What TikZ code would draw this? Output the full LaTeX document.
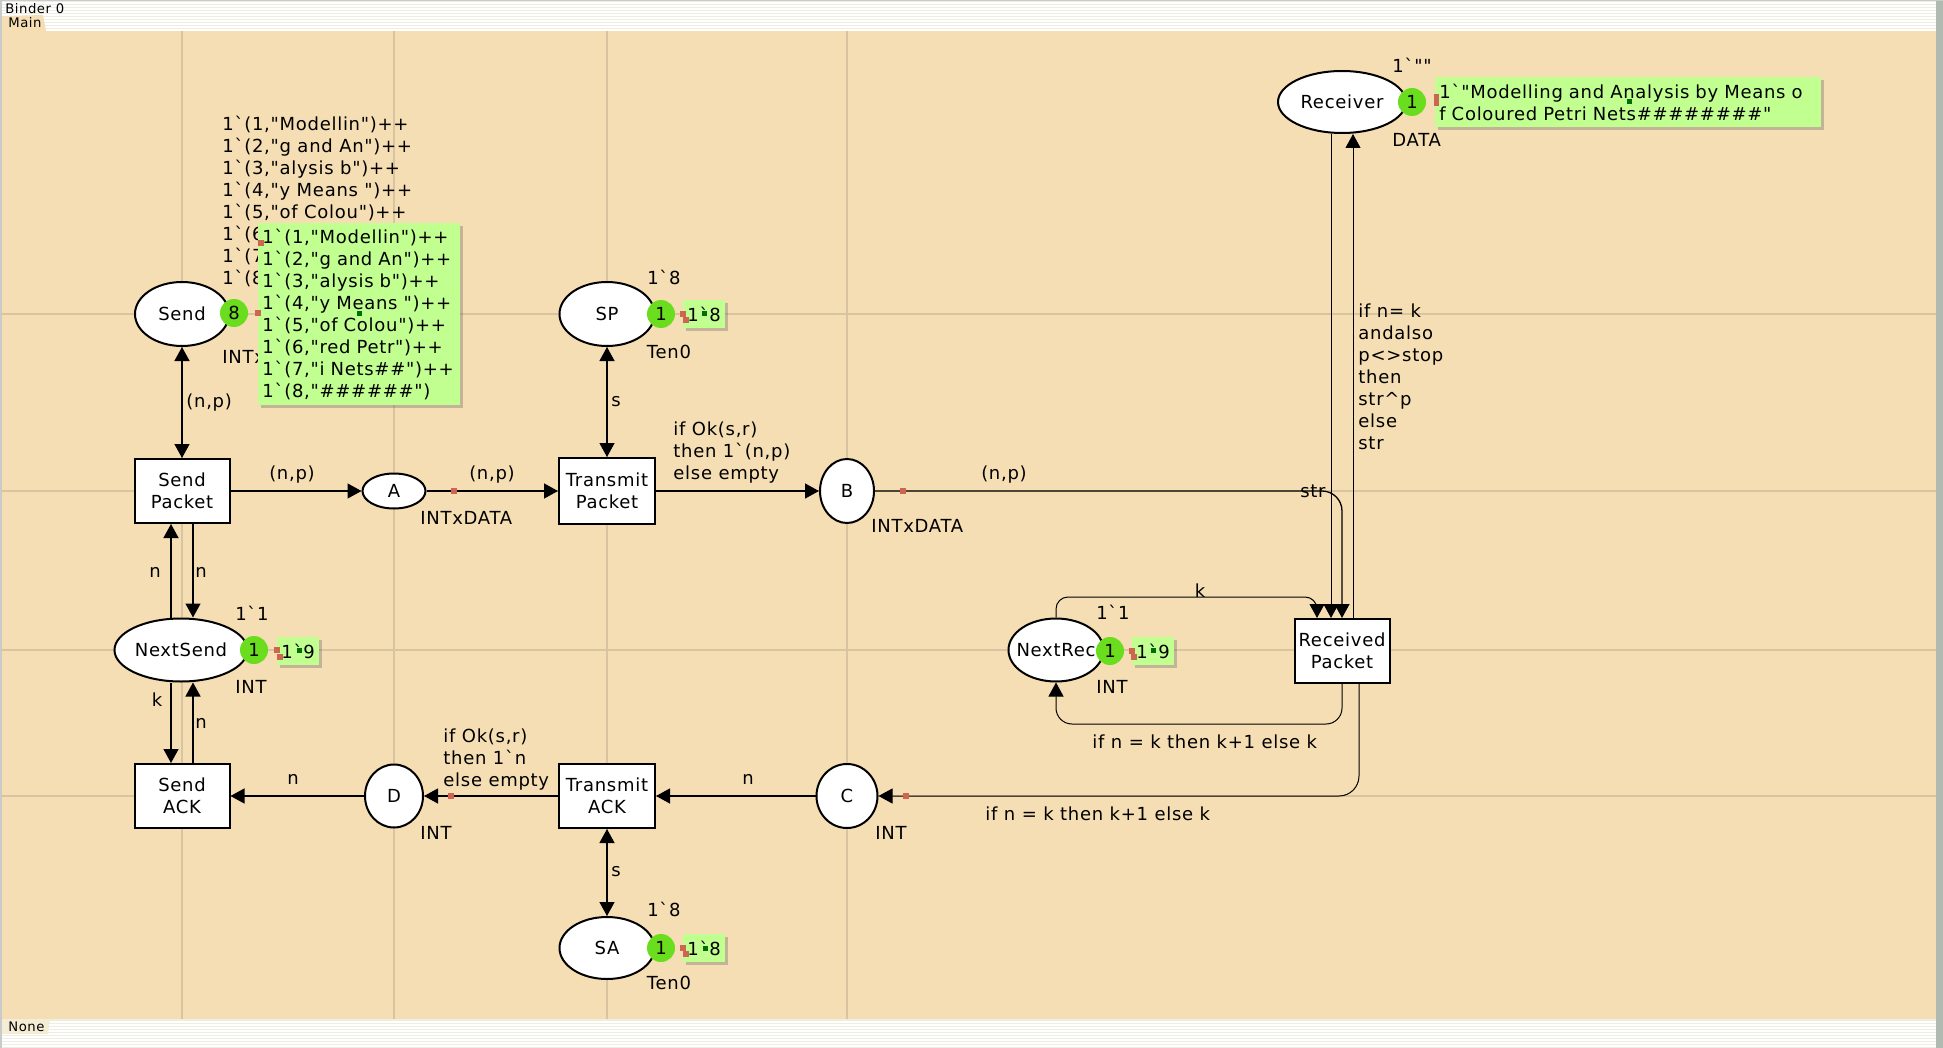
\documentclass[tikz,border=0pt]{standalone}
\usepackage{fontspec}
\newfontfamily\cpnfam[LetterSpace=4]{DejaVu Sans}
\newcommand\cpnfont{\fontsize{9}{11}\cpnfam}
\newcommand\cpnsmall{\fontsize{6.6}{7.5}\cpnfam}
\usetikzlibrary{shapes.geometric,arrows.meta,shadows}
\definecolor{canvas}{RGB}{245,222,179}
\definecolor{gridc}{RGB}{216,196,160}
\definecolor{boxg}{RGB}{193,255,145}
\definecolor{tokg}{RGB}{106,222,30}
\definecolor{redm}{RGB}{205,102,80}
\definecolor{darkg}{RGB}{0,110,0}
\definecolor{barbg}{RGB}{238,237,226}
\definecolor{leftbar}{RGB}{200,204,200}
\definecolor{rightbar}{RGB}{176,186,176}
\definecolor{nonetab}{RGB}{244,236,212}
\tikzset{
  place/.style={ellipse, draw, line width=1pt, fill=white, inner sep=0pt, font=\cpnfont},
  trans/.style={rectangle, draw, line width=1pt, fill=white, inner sep=0pt, align=center,
                minimum width=47.5pt, minimum height=32pt, font=\cpnfont},
  tok/.style={circle, fill=tokg, inner sep=0pt, minimum size=14pt, font=\cpnfont},
  gbox/.style={fill=boxg, inner sep=2pt, font=\cpnfont, align=left,
               drop shadow={shadow xshift=1.5pt, shadow yshift=-1.5pt, opacity=0.35, fill=black!60}},
  lbl/.style={inner sep=0pt, font=\cpnfont, align=left},
  arc/.style={line width=0.65pt, -{Triangle[length=7pt,width=7.5pt]}},
  biarc/.style={line width=0.65pt, {Triangle[length=7pt,width=7.5pt]}-{Triangle[length=7pt,width=7.5pt]}},
  redsq/.style={fill=redm, minimum size=3pt, inner sep=0pt},
  dgsq/.style={fill=darkg, minimum size=2.5pt, inner sep=0pt},
  gridline/.style={gridc, line width=0.75pt},
}
\begin{document}
\begin{tikzpicture}[x=0.5pt, y=-0.5pt]
\useasboundingbox (0,0) rectangle (1943,1048);
% ---------- window frame ----------
\fill[barbg] (0,0) rectangle (1943,1048);
\foreach \yy in {3,6,...,30} \draw[white, line width=0.6pt] (0,\yy) -- (1936,\yy);
\foreach \yy in {1022,1025,...,1046} \draw[white, line width=0.6pt] (0,\yy) -- (1936,\yy);
\fill[canvas] (2,31) rectangle (1936,1019);
\fill[canvas] (2,31) -- (2,16) -- (43,15) -- (46,31) -- cycle;
\node[anchor=west, inner sep=0pt, font=\cpnsmall] (maintab) at (8,23) {Main};
\node[anchor=west, inner sep=0pt, font=\cpnsmall] (binder) at (5,9) {Binder 0};
\fill[nonetab] (2,1019) -- (50,1019) -- (48,1034) -- (2,1034) -- cycle;
\node[anchor=west, inner sep=0pt, font=\cpnsmall] (nonelbl) at (8,1027) {None};
\fill[rightbar] (1936,0) rectangle (1943,1048);
\fill[leftbar] (0,0) rectangle (2,1048);
\fill[leftbar] (0,0) rectangle (1943,1.5);
% ---------- grid ----------
\foreach \xx in {182,394,607,847} \draw[gridline] (\xx,31) -- (\xx,1019);
\foreach \yy in {314,491,650,796} \draw[gridline] (2,\yy) -- (1936,\yy);
% ---------- places and transitions ----------
\node[place, minimum width=47pt, minimum height=32pt] (send) at (182,314) {Send};
\node[place, minimum width=47.5pt, minimum height=32pt] (sp) at (607,314) {SP};
\node[place, minimum width=64pt, minimum height=31pt] (recv) at (1342,102) {Receiver};
\node[trans] (sendpacket) at (182,491) {Send\\Packet};
\node[place, minimum width=31.5pt, minimum height=17.5pt] (a) at (394,491) {A};
\node[trans, minimum width=48pt, minimum height=33pt] (tp) at (607,491) {Transmit\\Packet};
\node[place, minimum width=27pt, minimum height=32pt] (b) at (847,491) {B};
\node[place, minimum width=66.5pt, minimum height=31.5pt] (nextsend) at (181,650) {NextSend};
\node[place, minimum width=47.5pt, minimum height=31.5pt] (nextrec) at (1056,650) {\makebox[0pt]{NextRec}};
\node[trans] (rp) at (1342,651) {Received\\Packet};
\node[trans] (sendack) at (182,796) {Send\\ACK};
\node[place, minimum width=29pt, minimum height=31.5pt] (d) at (394,796) {D};
\node[trans, minimum width=48pt] (ta) at (607,796) {Transmit\\ACK};
\node[place, minimum width=30.5pt, minimum height=32pt] (c) at (847,796) {C};
\node[place, minimum width=47.5pt, minimum height=31pt] (sa) at (607,948) {SA};
% ---------- arcs ----------
\draw[biarc] (send) -- (sendpacket);
\draw[arc] (sendpacket) -- (a);
\draw[arc] (a) -- (tp);
\draw[biarc] (sp) -- (tp);
\draw[arc] (tp) -- (b);
\draw[arc, rounded corners=10pt] (b.east) -- (1342,491) -- (rp.north);
\draw[arc, line width=0.5pt] (1331,0 |- recv.south) -- (1331,0 |- rp.north);
\draw[arc, line width=0.5pt] (1353,0 |- rp.north) -- (1353,0 |- recv.south);
\draw[arc, line width=0.5pt, rounded corners=6pt] (nextrec.north) -- (1056,597) -- (1317,597) -- (1317,0 |- rp.north);
\draw[arc, line width=0.5pt, rounded corners=8pt] (rp.south) -- (1342,724) -- (1056,724) -- (nextrec.south);
\draw[arc, line width=0.5pt, rounded corners=10pt] (1359,0 |- rp.south) -- (1359,796) -- (c.east);
\draw[arc] (c) -- (ta);
\draw[arc] (ta) -- (d);
\draw[arc] (d) -- (sendack);
\draw[biarc] (ta) -- (sa);
\draw[arc] (171,0 |- nextsend.north) -- (171,0 |- sendpacket.south);
\draw[arc] (193,0 |- sendpacket.south) -- (193,0 |- nextsend.north);
\draw[arc] (171,0 |- nextsend.south) -- (171,0 |- sendack.north);
\draw[arc] (193,0 |- sendack.north) -- (193,0 |- nextsend.south);
% arc markers
\node[redsq] (m1) at (454,491) {};
\node[redsq] (m2) at (903,491) {};
\node[redsq] (m3) at (451,796) {};
\node[redsq] (m4) at (906,796) {};
% ---------- arc labels ----------
\node[lbl, anchor=west] (l1) at (186,403) {(n,p)};
\node[lbl] (l2) at (292,475) {(n,p)};
\node[lbl] (l3) at (492,475) {(n,p)};
\node[lbl] (l4) at (616,402) {s};
\node[lbl, anchor=west] (l5) at (673,453) {if Ok(s,r)\\then 1`(n,p)\\else empty};
\node[lbl] (l6) at (1004,475) {(n,p)};
\node[lbl, anchor=east] (l7) at (1326,491) {str};
\node[lbl, anchor=west] (l8) at (1358,377) {if n= k\\andalso\\p<>stop\\then\\str\textasciicircum p\\else\\str};
\node[lbl] (l9) at (1200,591) {k};
\node[lbl, anchor=west] (l10) at (1092,742) {if n = k then k+1 else k};
\node[lbl, anchor=west] (l11) at (985,814) {if n = k then k+1 else k};
\node[lbl] (l12) at (748,779) {n};
\node[lbl, anchor=west] (l13) at (443,760) {if Ok(s,r)\\then 1`n\\else empty};
\node[lbl] (l14) at (293,779) {n};
\node[lbl] (l15) at (616,872) {s};
\node[lbl] (l16) at (155,572) {n};
\node[lbl] (l17) at (201,572) {n};
\node[lbl] (l18) at (157,700) {k};
\node[lbl] (l19) at (201,723) {n};
% ---------- place inscriptions ----------
\node[lbl, anchor=west] (sendinit) at (222,201) {1`(1,"Modellin")++\\1`(2,"g and An")++\\1`(3,"alysis b")++\\1`(4,"y Means ")++\\1`(5,"of Colou")++\\1`(6,"red Petr")++\\1`(7,"i Nets\#\#")++\\1`(8,"\#\#\#\#\#\#")};
\node[lbl, anchor=west] (sendtype) at (222,357) {INTxDATA};
\node[lbl] (spinit) at (664,277) {1`8};
\node[lbl] (sptype) at (669,352) {Ten0};
\node[lbl] (sainit) at (664,909) {1`8};
\node[lbl] (satype) at (669,983) {Ten0};
\node[lbl] (nsinit) at (252,613) {1`1};
\node[lbl] (nstype) at (251,687) {INT};
\node[lbl] (nrinit) at (1113,612) {1`1};
\node[lbl] (nrtype) at (1112,687) {INT};
\node[lbl, anchor=west] (atype) at (420,518) {INTxDATA};
\node[lbl, anchor=west] (btype) at (871,526) {INTxDATA};
\node[lbl] (ctype) at (891,833) {INT};
\node[lbl] (dtype) at (436,833) {INT};
\node[lbl, anchor=west] (rinit) at (1392,65) {1`""};
\node[lbl, anchor=west] (rtype) at (1392,140) {DATA};
% ---------- tokens ----------
\node[tok] (tsend) at (234,313) {8};
\node[tok] (tsp) at (661,314) {1};
\node[tok] (tsa) at (661,948) {1};
\node[tok] (tns) at (254,650) {1};
\node[tok] (tnr) at (1110,651) {1};
\node[tok] (trecv) at (1412,102) {1};
% ---------- marking boxes ----------
\node[gbox, anchor=north west, text width=97pt, minimum height=91pt] (bsend) at (258,223) {1`(1,"Modellin")++\\1`(2,"g and An")++\\1`(3,"alysis b")++\\1`(4,"y Means ")++\\1`(5,"of Colou")++\\1`(6,"red Petr")++\\1`(7,"i Nets\#\#")++\\1`(8,"\#\#\#\#\#\#")};
\node[gbox, anchor=west, minimum height=14pt] (bns) at (277,651) {1`9};
\node[gbox, anchor=west, minimum height=14pt] (bsp) at (683,314) {1`8};
\node[gbox, anchor=west, minimum height=14pt] (bsa) at (683,948) {1`8};
\node[gbox, anchor=west, minimum height=14pt] (bnr) at (1132,651) {1`9};
\node[gbox, anchor=west, text width=189pt, minimum height=25pt] (brecv) at (1435,102) {1`"Modelling and Analysis by Means o\\f Coloured Petri Nets\#\#\#\#\#\#\#\#"};
% handles
\node[redsq] (h1) at (258,313) {};
\node[redsq] (h2) at (261,243) {};
\node[redsq] (h3) at (277,650) {};
\node[redsq] (h4) at (280,657) {};
\node[redsq] (h5) at (683,314) {};
\node[redsq] (h6) at (686,320) {};
\node[redsq] (h7) at (683,948) {};
\node[redsq] (h8) at (686,954) {};
\node[redsq] (h9) at (1132,651) {};
\node[redsq] (h10) at (1134,657) {};
\node[redsq, minimum width=2.5pt, minimum height=6pt] (h11) at (1436,100) {};
\node[dgsq] (g1) at (359,313) {};
\node[dgsq] (g2) at (299,650) {};
\node[dgsq] (g3) at (704,313) {};
\node[dgsq] (g4) at (705,948) {};
\node[dgsq] (g5) at (1153,650) {};
\node[dgsq] (g6) at (1629,102) {};
\end{tikzpicture}
\end{document}
